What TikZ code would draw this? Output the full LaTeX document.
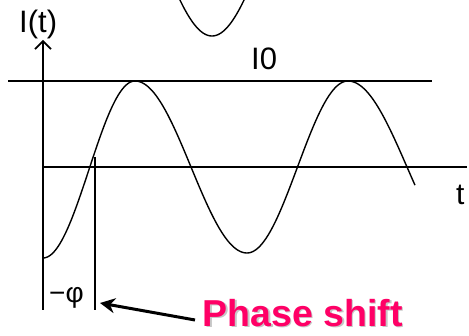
\documentclass[tikz,border=0pt]{standalone}
\usepackage{fontspec}
\setmainfont{Liberation Sans}
\usetikzlibrary{arrows.meta}
\definecolor{phasepink}{HTML}{FF0066}
\tikzset{
  axisline/.style={line width=1.6pt, black},
  curveline/.style={line width=1.4pt, black},
  thinline/.style={line width=1.3pt, black},
  lbl/.style={inner sep=0pt, anchor=base west},
}
\begin{document}
\begin{tikzpicture}[x=1pt,y=-1pt]
\useasboundingbox (0,0) rectangle (469,336);
\clip (0,0) rectangle (469,336);
% coordinates
\coordinate (ybot) at (43,310);
\coordinate (ytop) at (43,40);
\coordinate (i0l) at (8,81);
\coordinate (i0r) at (432,81);
\coordinate (tl) at (43,167);
\coordinate (tr) at (467,167);
\coordinate (mtop) at (95,157);
\coordinate (mbot) at (95,310);
\coordinate (arrsrc) at (195,320);
\coordinate (arrtip) at (100,303);
% axes and lines
\draw[axisline, -{Straight Barb[length=8pt,width=16pt,line width=1.6pt]}] (ybot) -- (ytop);
\draw[axisline] (i0l) -- (i0r);
\draw[axisline] (tl) -- (tr);
\draw[thinline] (mtop) -- (mbot);
% curve
\draw[curveline] plot[domain=43:135, samples=60] (\x, {169.5 + 88.5*cos(((\x-43)/92)*180)})
  -- plot[domain=135:247, samples=70] (\x, {167 - 86*cos(((\x-135)/112)*180)})
  -- plot[domain=247:348, samples=70] (\x, {167 + 86*cos(((\x-247)/101)*180)})
  -- plot[domain=348:415, samples=50] (\x, {167 - 86*cos(((\x-348)/118)*180)});
% upper partial trough
\draw[curveline] plot[domain=176:248, samples=50] (\x, {-50 + 86*cos(((\x-212)/106)*180)});
% labels
\node[lbl, font=\fontsize{31}{31}\selectfont] (ilab) at (19,33) {I(t)};
\node[lbl, font=\fontsize{31}{31}\selectfont] (i0lab) at (251,70) {I0};
\node[lbl, font=\fontsize{30}{30}\selectfont] (tlab) at (456,205) {t};
\node[lbl, font=\fontsize{28}{28}\selectfont] (philab) at (49,302.5) {−φ};
% phase shift
\node[lbl, text depth=0pt, font=\fontsize{37.5}{37.5}\selectfont\bfseries, text=gray!45] at (204,328) {Phase shift};
\node[lbl, text depth=0pt, font=\fontsize{37.5}{37.5}\selectfont\bfseries, text=phasepink] (ps) at (202.5,326.5) {Phase shift};
\draw[line width=3pt, -{Stealth[length=15pt,width=15pt]}] (arrsrc) -- (arrtip);
\end{tikzpicture}
\end{document}
